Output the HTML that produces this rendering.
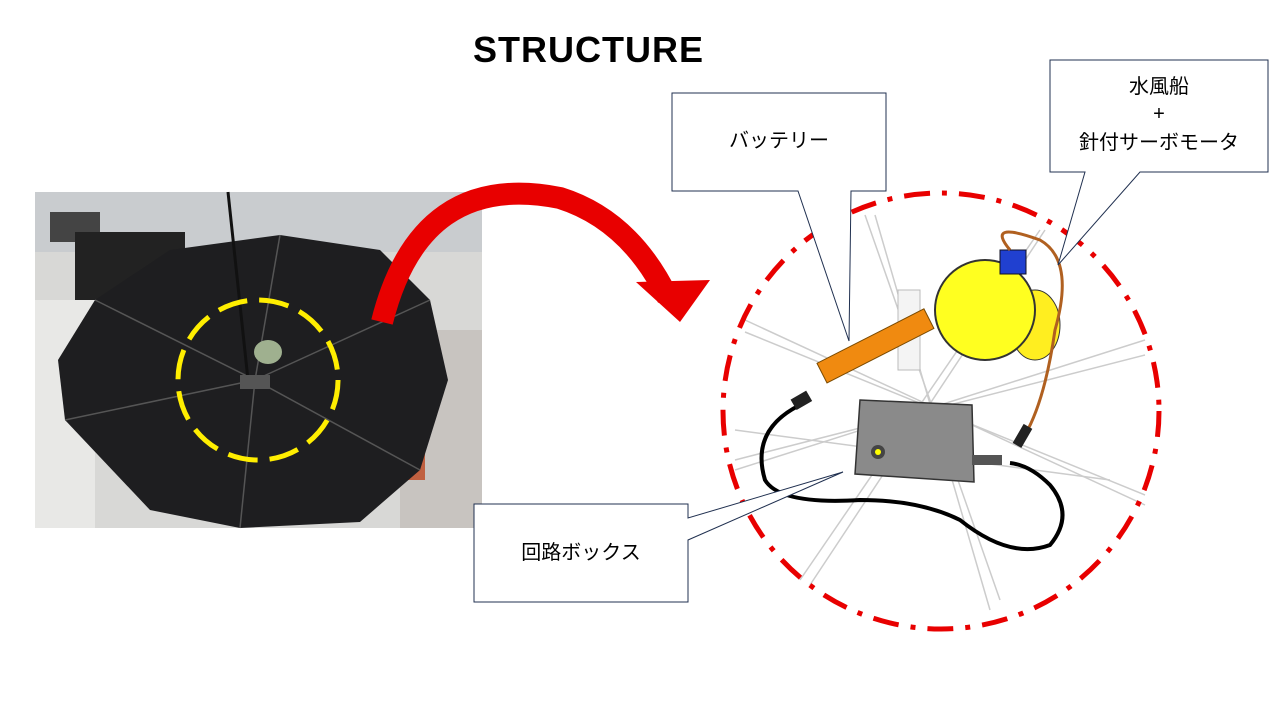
<!DOCTYPE html>
<html><head><meta charset="utf-8"><style>
body{margin:0;width:1280px;height:720px;background:#fff;overflow:hidden;font-family:"Liberation Sans","Noto Sans CJK JP",sans-serif}
</style></head><body>
<svg width="1280" height="720" xmlns="http://www.w3.org/2000/svg">
<text x="588" y="62" text-anchor="middle" font-family="Liberation Sans, sans-serif" font-weight="bold" font-size="36" textLength="230">STRUCTURE</text>
<!-- photo -->
<rect x="35" y="192" width="447" height="336" fill="#d8d8d6"/>
<rect x="35" y="192" width="447" height="60" fill="#c9cccf"/>
<rect x="50" y="212" width="50" height="30" fill="#444"/>
<rect x="75" y="232" width="110" height="70" fill="#222"/>
<rect x="35" y="300" width="60" height="228" fill="#e8e8e6"/>
<rect x="400" y="330" width="82" height="198" fill="#c8c4c0"/>
<rect x="380" y="400" width="45" height="80" fill="#c06040"/>
<polygon points="95,300 170,250 280,235 380,250 430,300 448,380 420,470 360,522 240,528 150,510 65,420 58,360" fill="#1e1e20"/>
<g stroke="#555" stroke-width="1.5"><line x1="255" y1="380" x2="95" y2="300"/><line x1="255" y1="380" x2="280" y2="235"/><line x1="255" y1="380" x2="430" y2="300"/><line x1="255" y1="380" x2="420" y2="470"/><line x1="255" y1="380" x2="240" y2="528"/><line x1="255" y1="380" x2="65" y2="420"/></g>
<line x1="228" y1="192" x2="248" y2="380" stroke="#111" stroke-width="3"/>
<ellipse cx="268" cy="352" rx="14" ry="12" fill="#9fb08f"/>
<rect x="240" y="375" width="30" height="14" fill="#555"/>
<ellipse cx="258" cy="380" rx="80" ry="80" fill="none" stroke="#ffee00" stroke-width="5" stroke-dasharray="30,12"/>
<!-- red arrow -->
<path d="M382,322 Q420,170 560,198 Q630,220 668,298" fill="none" stroke="#e80000" stroke-width="22"/>
<polygon points="636,282 710,280 680,322" fill="#e80000"/>
<!-- right diagram -->
<g stroke="#ccc" stroke-width="1.5" fill="none">
<line x1="745" y1="320" x2="1145" y2="505"/><line x1="745" y1="332" x2="1145" y2="495"/>
<line x1="735" y1="470" x2="1145" y2="340"/><line x1="735" y1="460" x2="1145" y2="355"/>
<line x1="865" y1="215" x2="1000" y2="600"/><line x1="875" y1="215" x2="990" y2="610"/>
<line x1="1045" y1="230" x2="810" y2="585"/><line x1="1040" y1="230" x2="800" y2="580"/>
<line x1="735" y1="430" x2="1110" y2="480"/>
</g>
<rect x="898" y="290" width="22" height="80" fill="#f4f4f4" stroke="#bbb"/>
<g transform="rotate(-27 875 345)"><rect x="815" y="335" width="120" height="22" fill="#f08a10" stroke="#7a4a00"/></g>
<ellipse cx="1035" cy="325" rx="25" ry="35" fill="#ffee20" stroke="#333"/>
<ellipse cx="985" cy="310" rx="50" ry="50" fill="#ffff20" stroke="#333" stroke-width="2"/>
<rect x="1000" y="250" width="26" height="24" fill="#2040d0" stroke="#112"/>
<path d="M1010,250 Q985,220 1040,240 Q1075,260 1055,330 Q1045,400 1025,435" fill="none" stroke="#b06020" stroke-width="3"/>
<path d="M800,405 Q750,430 765,480 Q780,505 860,500 Q920,500 960,520 Q1010,560 1050,545 Q1075,515 1050,485 Q1030,465 1010,463" fill="none" stroke="#000" stroke-width="4"/>
<rect x="792" y="395" width="18" height="12" fill="#222" transform="rotate(-30 800 400)"/>
<rect x="1018" y="425" width="10" height="22" fill="#222" transform="rotate(30 1023 435)"/>
<polygon points="860,400 972,405 974,482 855,474" fill="#8a8a8a" stroke="#333" stroke-width="1.5"/>
<circle cx="878" cy="452" r="7" fill="#444"/><circle cx="878" cy="452" r="3" fill="#ff0"/>
<rect x="972" y="455" width="30" height="10" fill="#555"/>
<ellipse cx="941" cy="411" rx="218" ry="218" fill="none" stroke="#e80000" stroke-width="5" stroke-dasharray="26,12,5,12"/>
<!-- callouts -->
<g fill="#fff" stroke="#203050" stroke-width="1">
<polygon points="672,93 886,93 886,191 851,191 849,341 798,191 672,191"/>
<polygon points="1050,60 1268,60 1268,172 1140,172 1058,265 1085,172 1050,172"/>
<polygon points="474,504 688,504 688,518 843,472 688,540 688,602 474,602"/>
</g>
<g font-size="20" fill="#000" text-anchor="middle">
<text x="779" y="147">バッテリー</text>
<text x="1159" y="93">水風船</text>
<text x="1159" y="120">+</text>
<text x="1159" y="149">針付サーボモータ</text>
<text x="581" y="559">回路ボックス</text>
</g>
</svg>
</body></html>
